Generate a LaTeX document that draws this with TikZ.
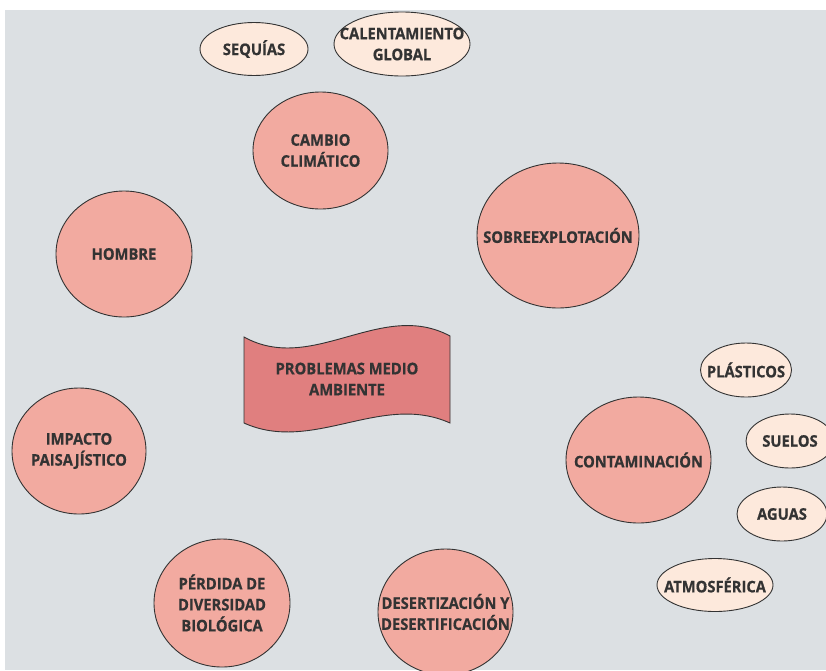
\documentclass[tikz,border=0pt]{standalone}
\usepackage{fontspec}
\setmainfont{Open Sans}[FakeStretch=0.92, BoldFeatures={FakeBold=0.6}]
\usetikzlibrary{shapes.geometric}
\definecolor{bgc}{HTML}{DCE0E3}
\definecolor{circfill}{HTML}{F2AAA0}
\definecolor{ellfill}{HTML}{FDE9DC}
\definecolor{banfill}{HTML}{E07F7F}
\definecolor{txtc}{HTML}{333333}
\definecolor{edgec}{HTML}{333333}
\tikzset{
  txt/.style={font=\bfseries\fontsize{16}{21}\selectfont, text=txtc, align=center, inner sep=0pt},
  bigc/.style={ellipse, draw=edgec, line width=0.9pt, fill=circfill, inner sep=0pt},
  smalle/.style={ellipse, draw=edgec, line width=0.9pt, fill=ellfill, inner sep=0pt},
}
\begin{document}
\begin{tikzpicture}[x=1pt,y=-1pt]
\useasboundingbox (0,0) rectangle (826,670);
\fill[bgc] (5,10) rectangle (826,670);
% small ellipses
\node[smalle, minimum width=108pt, minimum height=53pt, label={[txt]center:SEQUÍAS}] (seq) at (254,49) {};
\node[smalle, minimum width=136pt, minimum height=64pt, label={[txt]center:CALENTAMIENTO\\GLOBAL}] (cal) at (402,44) {};
\node[smalle, minimum width=91pt, minimum height=54pt, label={[txt]center:PLÁSTICOS}] (pla) at (746,370) {};
\node[smalle, minimum width=88pt, minimum height=54pt, label={[txt]center:SUELOS}] (sue) at (790,441) {};
\node[smalle, minimum width=90pt, minimum height=54pt, label={[txt]center:AGUAS}] (agu) at (782,514) {};
\node[smalle, minimum width=116pt, minimum height=53pt, label={[txt]center:ATMOSFÉRICA}] (atm) at (715,585) {};
% big circles
\node[bigc, minimum width=135pt, minimum height=117pt, label={[txt]center:CAMBIO\\CLIMÁTICO}] (cam) at (320.5,150.5) {};
\node[bigc, minimum width=162pt, minimum height=145pt, label={[txt]center:SOBREEXPLOTACIÓN}] (sob) at (558,235.5) {};
\node[bigc, minimum width=136pt, minimum height=126pt, label={[txt]center:HOMBRE}] (hom) at (124,254) {};
\node[bigc, minimum width=134pt, minimum height=126pt, label={[txt]center:IMPACTO\\PAISAJÍSTICO}] (imp) at (79,451) {};
\node[bigc, minimum width=136pt, minimum height=128pt, label={[txt]center:PÉRDIDA DE\\DIVERSIDAD\\BIOLÓGICA}] (per) at (222,603) {};
\node[bigc, minimum width=135pt, minimum height=126pt, label={[txt]center:DESERTIZACIÓN Y\\DESERTIFICACIÓN}] (des) at (445.5,612) {};
\node[bigc, minimum width=145pt, minimum height=126pt, label={[txt]center:CONTAMINACIÓN}] (con) at (638.5,460) {};
% banner
\draw[edgec, line width=0.9pt, fill=banfill]
  (244,337) .. controls (312.7,375) and (381.3,299) .. (450,336)
  -- (450,423) .. controls (381.3,392) and (312.7,454) .. (244,423) -- cycle;
\node[txt] (pro) at (347,379) {PROBLEMAS MEDIO\\AMBIENTE};
\end{tikzpicture}
\end{document}
